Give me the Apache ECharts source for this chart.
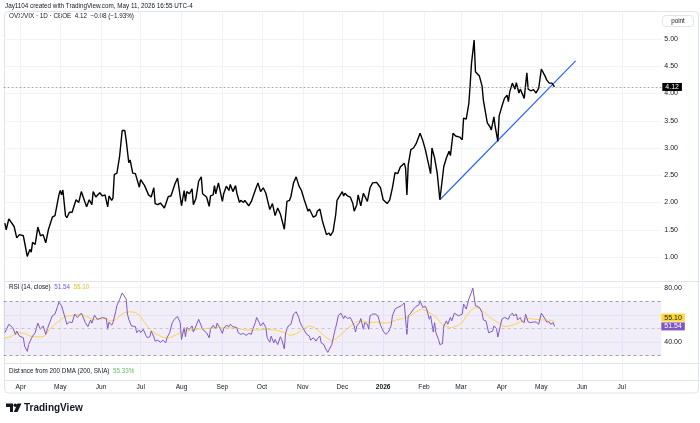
<!DOCTYPE html>
<html>
<head>
<meta charset="utf-8">
<script src="https://cdn.jsdelivr.net/npm/echarts@6/dist/echarts.min.js"></script>
<style>html,body{margin:0;padding:0;background:#fff}#c{width:700px;height:423px}</style>
</head>
<body>
<div id="c"></div>
<script>
// Day offsets are counted from this date (2025-03-16)
const startDate = [2025, 2, 16];

const priceDays = [
  4,5,7,11,13,15,18,21,23,24,
  25,27,29,31,33,35,37,40,42,45,
  46,47,48,50,51,53,55,58,60,62,
  64,66,68,70,71,73,76,78,80,82,
  83,85,86,87,89,91,93,95,96,98,
  99,101,103,106,107,110,111,113,115,117,
  118,120,122,125,128,130,133,135,138,140,
  141,142,144,146,147,149,151,153,154,157,
  159,160,162,163,164,166,169,170,172,174,
  175,177,179,180,182,183,185,186,189,191,
  194,196,198,200,202,205,207,209,211,213,
  216,218,220,221,223,224,225,227,229,231,
  232,234,235,238,240,241,243,245,246,248,
  250,251,253,255,256,258,260,261,262,264,
  266,268,269,271,272,274,276,277,279,280,
  281,283,286,287,289,291,294,296,298,300,
  302,304,305,307,308,309,310,312,314,316,
  319,321,323,324,327,328,330,332,334,335,
  337,339,341,342,344,346,347,349,351,352,
  354,356,357,358,360,361,362,364,366,367,
  368,370,372,373,375,376,378,379,381,383,
  385,386,387,389,391,392,394,395,397,398,
  400,401,403,405,407,409,411,412,414,415,
  417,418,419,421
];
const priceValues = [
  1.62,1.50,1.70,1.56,1.35,1.41,1.39,1.01,1.14,1.09,
  1.27,1.23,1.55,1.39,1.41,1.26,1.50,1.73,1.76,2.14,
  2.22,2.14,2.23,1.76,1.72,1.82,1.82,2.05,2.00,2.20,
  2.06,1.92,2.05,1.96,2.20,2.10,2.18,2.12,2.14,1.92,
  2.12,2.04,2.08,2.51,2.54,2.84,3.32,3.32,3.15,2.73,
  2.78,2.54,2.53,2.28,2.42,2.31,2.34,2.14,2.10,2.27,
  1.98,1.96,1.99,1.90,2.11,2.12,2.34,2.45,1.94,2.22,
  2.02,2.20,2.16,2.25,1.96,2.08,2.39,2.47,2.16,2.10,
  1.93,2.12,2.14,2.31,2.16,2.36,2.02,2.16,2.30,2.22,
  2.33,2.20,2.31,2.17,2.00,2.04,2.00,2.04,1.94,2.02,
  2.23,2.36,2.20,2.27,2.17,1.87,1.98,1.76,1.90,1.79,
  1.51,2.02,2.04,2.11,2.36,2.37,2.47,2.31,2.22,2.06,
  2.08,1.84,1.88,1.73,1.76,1.84,1.88,1.65,1.67,1.41,
  1.44,1.39,1.47,1.78,2.04,2.12,2.20,2.12,2.17,2.12,
  2.10,1.98,1.84,1.96,2.14,1.94,2.17,2.20,2.02,2.00,
  2.27,2.36,2.37,2.36,2.27,2.05,1.98,2.05,2.27,2.55,
  2.53,2.65,2.67,2.72,2.63,2.14,2.69,2.97,3.00,3.08,
  3.27,3.14,2.97,2.98,2.53,3.00,2.82,2.54,2.05,2.06,
  2.66,2.82,2.94,2.86,3.27,3.22,3.24,3.20,3.15,3.55,
  3.53,3.82,4.16,4.55,4.98,4.40,4.37,4.32,4.14,3.88,
  3.85,3.46,3.39,3.33,3.57,3.39,3.12,3.59,3.76,3.91,
  3.97,3.85,4.03,4.19,4.08,4.20,4.01,4.08,3.97,3.91,
  4.38,4.08,4.05,4.07,4.01,4.10,4.45,4.43,4.31,4.25,
  4.19,4.22,4.19,4.12
];

const trendDays = [334, 437];
const trendValues = [2.05, 4.60];

const rsiDays = [
  4,5,7,10,12,13,15,18,19,21,
  22,24,25,27,29,31,33,35,37,39,
  40,42,44,45,47,48,50,51,53,55,
  57,59,62,63,65,67,69,70,72,74,
  76,78,79,81,82,83,85,86,88,89,
  91,93,94,96,97,98,100,101,103,104,
  106,107,109,111,112,114,115,117,118,120,
  122,124,126,127,129,131,133,135,137,138,
  140,141,142,144,146,147,149,151,152,154,
  155,157,159,160,162,164,165,167,169,170,
  172,174,175,177,178,180,181,183,185,187,
  189,191,192,194,195,197,198,200,202,203,
  205,206,208,209,211,213,214,216,217,219,
  221,223,225,227,228,230,231,233,235,236,
  238,240,241,243,244,246,247,249,250,252,
  254,256,257,259,261,262,264,266,267,269,
  270,271,273,274,276,277,279,280,281,283,
  285,287,289,291,293,295,297,298,300,302,
  303,305,307,309,310,312,314,316,318,319,
  321,323,324,326,327,329,330,331,333,334,
  336,337,339,340,342,343,345,346,348,349,
  351,352,354,356,358,359,361,362,364,366,
  367,369,371,372,374,375,377,378,380,381,
  383,384,386,387,389,390,392,393,395,396,
  398,399,401,403,405,407,409,411,412,414,
  415,417,418,420,421
];
const rsiValues = [
  46.9,45.7,53.1,50.6,45.7,48.1,44.4,43.2,37.0,33.2,
  38.2,42.4,44.4,46.9,53.9,49.4,51.9,45.7,51.9,56.8,
  59.3,60.6,66.3,69.3,66.8,68.0,56.8,53.1,54.8,54.3,
  60.6,58.1,61.3,59.3,54.3,51.4,56.3,53.9,59.8,56.8,
  57.3,58.1,56.8,57.3,49.4,54.8,52.4,54.3,62.3,66.8,
  71.2,76.2,76.7,71.7,60.6,56.8,51.9,50.6,51.4,46.9,
  48.9,46.9,49.4,44.9,43.2,43.9,48.1,43.9,40.7,41.4,
  39.9,41.4,39.4,43.2,46.9,54.3,57.3,58.8,54.3,41.9,
  50.6,43.9,50.6,49.4,51.9,47.4,51.9,56.8,57.3,49.4,
  49.9,46.9,43.2,49.4,52.4,49.9,53.9,50.6,46.4,49.9,
  52.4,51.4,53.1,51.4,52.4,50.6,46.9,45.7,46.4,44.9,
  46.4,45.7,49.4,54.3,58.1,54.3,51.9,54.3,50.6,43.2,
  39.9,44.4,39.4,41.9,38.2,43.9,41.9,35.0,46.9,51.9,
  53.1,60.6,62.3,58.1,54.3,50.6,51.9,45.7,44.4,41.4,
  43.2,40.7,42.4,44.4,39.4,38.2,35.7,32.5,34.5,38.2,
  46.9,54.8,59.8,61.3,57.3,59.3,57.3,58.1,56.3,51.9,
  47.4,51.9,54.3,57.3,49.4,54.3,53.1,49.4,59.3,60.6,
  60.6,59.3,52.4,48.1,45.7,47.4,51.9,59.3,64.3,65.5,
  64.3,66.8,68.8,45.7,59.3,61.3,64.3,66.3,67.3,70.5,
  65.5,66.3,64.3,56.8,59.3,47.4,54.3,46.9,41.9,38.2,
  38.9,51.9,55.6,53.1,58.1,55.6,61.3,60.6,59.3,58.8,
  60.6,68.0,64.3,71.7,76.7,79.7,66.8,65.5,65.5,61.8,
  56.3,55.6,46.9,46.4,48.1,51.9,49.9,43.7,52.4,56.8,
  58.1,59.3,56.8,59.3,61.3,59.3,60.6,56.3,58.1,55.6,
  54.3,60.6,54.8,54.3,54.8,54.8,53.1,61.3,60.6,56.8,
  54.8,54.8,53.1,54.3,51.54
];

const smaDays = [
  4,8,12,15,19,23,27,31,34,38,
  42,46,50,53,57,61,65,69,72,76,
  80,84,88,91,95,99,103,107,110,114,
  118,122,125,129,133,137,141,148,156,163,
  171,179,186,194,201,209,217,220,224,228,
  232,235,239,243,247,252,256,260,263,267,
  271,275,279,282,286,291,296,301,306,311,
  316,320,324,328,332,335,339,343,347,351,
  354,358,361,364,368,372,376,380,383,387,
  391,395,399,402,406,410,414,418,421
];
const smaValues = [
  42.7,43.9,45.7,46.9,46.4,44.4,43.9,43.7,44.4,49.4,
  53.1,56.3,58.8,59.3,60.1,60.3,59.3,57.3,56.3,56.8,
  57.3,55.6,56.3,59.3,61.8,62.3,61.8,58.8,54.3,49.4,
  46.4,44.4,43.2,43.2,44.9,46.9,48.1,49.4,49.9,50.6,
  50.6,50.4,48.9,48.9,49.4,48.9,46.9,44.9,45.7,48.1,
  50.6,51.9,50.6,47.4,43.9,40.7,43.2,46.4,49.4,52.4,
  54.8,55.6,54.8,54.3,54.8,53.9,54.3,56.3,57.3,58.8,
  62.3,64.3,63.0,60.6,57.3,53.9,51.4,50.6,51.9,54.3,
  59.3,63.8,65.5,64.8,61.8,58.1,55.6,53.1,51.4,51.9,
  53.1,54.8,56.8,57.3,56.8,56.3,56.3,56.1,55.10
];

const monthNames = ['Jan','Feb','Mar','Apr','May','Jun','Jul','Aug','Sep','Oct','Nov','Dec'];
const priceTicks = { min: 0.5, max: 5.5, step: 0.5 };
const rsiTicks = { min: 20, max: 80, step: 20, shown: [40, 80] };
const distanceValue = '55.33%';

const DAY = 864e5;
const base = Date.UTC(startDate[0], startDate[1], startDate[2]);
const t = d => base + d * DAY;
const zip = (ds, vs) => ds.map((d, i) => [t(d), vs[i]]);
const lastPrice = priceValues[priceValues.length - 1];
const lastRsi = rsiValues[rsiValues.length - 1];
const lastSma = smaValues[smaValues.length - 1];

const FONT = '"Liberation Sans", Arial, sans-serif';
const TXT = '#131722';
const GRIDC = '#f0f3fa';
const LEFT = 3.56, RIGHT = 38.7;
const xMin = t(3), xMax = t(502);

function timeAxis(gi, show) {
  return {
    type: 'time', gridIndex: gi, min: xMin, max: xMax,
    minInterval: 28 * DAY, maxInterval: 31 * DAY,
    axisLine: { show: false }, axisTick: { show: false },
    axisLabel: show ? {
      show: true, margin: 4, fontSize: 6.6, color: TXT, fontFamily: FONT,
      showMinLabel: false, showMaxLabel: false,
      formatter: function (v) {
        const d = new Date(v); const m = d.getUTCMonth();
        return m === 0 ? '{y|' + d.getUTCFullYear() + '}' : monthNames[m];
      },
      rich: { y: { fontWeight: 'bold', fontSize: 6.6, color: TXT, fontFamily: FONT } }
    } : { show: false },
    splitLine: { show: show, showMinLine: false, showMaxLine: false, lineStyle: { color: GRIDC, width: 1 } }
  };
}

function badge(value, bg, fg, vAlign) {
  return {
    yAxis: value,
    lineStyle: { color: 'rgba(0,0,0,0)', width: 0, opacity: 1 },
    label: {
      show: true, position: 'end', distance: 0, formatter: value.toFixed(2),
      verticalAlign: vAlign, opacity: 1,
      backgroundColor: bg, color: fg, padding: [1, 3, 0, 3], fontSize: 7, fontFamily: FONT
    }
  };
}

const chart = echarts.init(document.getElementById('c'), null, { renderer: 'canvas' });

const option = {
  animation: false,
  useUTC: true,
  backgroundColor: '#fff',
  grid: [
    { left: LEFT, right: RIGHT, top: 11.75, height: 272.5 },
    { left: LEFT, right: RIGHT, top: 287.7, height: 81.6 },
    { left: LEFT, right: RIGHT, top: 11.5, height: 368.5 }
  ],
  xAxis: [timeAxis(0, false), timeAxis(1, false), timeAxis(2, true)],
  yAxis: [
    {
      type: 'value', gridIndex: 0, position: 'right',
      min: priceTicks.min, max: priceTicks.max, interval: priceTicks.step,
      axisLine: { show: false }, axisTick: { show: false },
      axisLabel: { margin: 3, fontSize: 7, color: TXT, fontFamily: FONT,
        showMinLabel: false, showMaxLabel: false, formatter: v => v.toFixed(2) },
      splitLine: { showMinLine: false, showMaxLine: false, lineStyle: { color: GRIDC } }
    },
    {
      type: 'value', gridIndex: 1, position: 'right',
      min: rsiTicks.min, max: rsiTicks.max, interval: rsiTicks.step,
      axisLine: { show: false }, axisTick: { show: false },
      axisLabel: { margin: 3, fontSize: 7, color: TXT, fontFamily: FONT,
        showMinLabel: false,
        formatter: v => rsiTicks.shown.indexOf(v) >= 0 ? v.toFixed(2) : '' },
      splitLine: { showMinLine: false, lineStyle: { color: GRIDC } }
    },
    { type: 'value', gridIndex: 2, min: 0, max: 1, show: false }
  ],
  series: [
    {
      type: 'line', name: 'OVX/VIX', xAxisIndex: 0, yAxisIndex: 0,
      data: zip(priceDays, priceValues), showSymbol: false, symbol: 'none',
      lineStyle: { color: '#000', width: 1.4 }, z: 4,
      markLine: {
        silent: true, symbol: 'none', animation: false,
        lineStyle: { color: '#9598a1', type: [2, 2], width: 0.8 },
        label: {
          show: true, position: 'end', distance: 1,
          formatter: lastPrice.toFixed(2),
          backgroundColor: '#000', color: '#fff', padding: [1, 3, 0, 3],
          fontSize: 7, fontFamily: FONT
        },
        data: [{ yAxis: lastPrice }]
      }
    },
    {
      type: 'line', name: 'trend', xAxisIndex: 0, yAxisIndex: 0,
      data: zip(trendDays, trendValues), showSymbol: false, symbol: 'none',
      lineStyle: { color: '#2962ff', width: 1.2 }, z: 3
    },
    {
      type: 'line', name: 'RSI', xAxisIndex: 1, yAxisIndex: 1,
      data: zip(rsiDays, rsiValues), showSymbol: false, symbol: 'none',
      lineStyle: { color: '#7e57c2', width: 1 }, z: 4,
      markArea: {
        silent: true,
        itemStyle: { color: 'rgba(126,87,194,0.1)' },
        data: [[{ yAxis: 30 }, { yAxis: 70 }]]
      },
      markLine: {
        silent: true, symbol: 'none', animation: false,
        lineStyle: { color: '#9c9fa8', type: [3, 3], width: 1 },
        label: { show: false },
        data: [
          { yAxis: 70 }, { yAxis: 50, lineStyle: { color: '#b8bac2', type: [3, 3], width: 0.8 } }, { yAxis: 30 }
        ]
      }
    },
    {
      type: 'line', name: 'RSI SMA', xAxisIndex: 1, yAxisIndex: 1,
      data: zip(smaDays, smaValues), showSymbol: false, symbol: 'none',
      lineStyle: { color: '#f9d649', width: 1 }, z: 3
    },
    {
      type: 'line', name: 'badges', xAxisIndex: 1, yAxisIndex: 1, data: [], z: 6,
      markLine: {
        silent: true, symbol: 'none', animation: false,
        data: [
          badge(lastRsi, '#7e57c2', '#ffffff', 'middle'),
          badge(lastSma, '#fdd835', TXT, 'bottom')
        ]
      }
    }
  ],
  graphic: [
    { type: 'rect', silent: true, z: -10, shape: { x: 4.5, y: 11.5, width: 694, height: 381.5, r: 4 },
      style: { fill: 'none', stroke: '#e0e3eb', lineWidth: 1 } },
    { type: 'line', silent: true, shape: { x1: 4.5, y1: 281.5, x2: 698.5, y2: 281.5 }, style: { stroke: '#e0e3eb', lineWidth: 1 } },
    { type: 'line', silent: true, shape: { x1: 4.5, y1: 363.5, x2: 698.5, y2: 363.5 }, style: { stroke: '#e0e3eb', lineWidth: 1 } },
    { type: 'line', silent: true, shape: { x1: 4.5, y1: 380.5, x2: 698.5, y2: 380.5 }, style: { stroke: '#e0e3eb', lineWidth: 1 } },
    { type: 'text', silent: true, x: 5, y: 6,
      style: { text: 'Jay1104 created with TradingView.com, May 11, 2026 16:55 UTC-4', fontSize: 6.3, fontFamily: FONT, fill: TXT, verticalAlign: 'middle' } },
    { type: 'text', silent: true, x: 9, y: 16,
      style: { text: 'OVX/VIX · 1D · CBOE  4.12  −0.08 (−1.93%)', fontSize: 6.3, fontFamily: FONT, fill: TXT, verticalAlign: 'middle' } },
    { type: 'text', silent: true, x: 9, y: 287, z: 10,
      style: { text: 'RSI (14, close)  {p|51.54}  {s|55.10}', fontSize: 6.3, fontFamily: FONT, fill: TXT, verticalAlign: 'middle',
        rich: { p: { fill: '#7e57c2', fontSize: 6.3, fontFamily: FONT }, s: { fill: '#e8c22a', fontSize: 6.3, fontFamily: FONT } } } },
    { type: 'text', silent: true, x: 9, y: 371,
      style: { text: 'Distance from 200 DMA (200, SMA)  {g|' + distanceValue + '}', fontSize: 6.3, fontFamily: FONT, fill: TXT, verticalAlign: 'middle',
        rich: { g: { fill: '#66bb6a', fontSize: 6.3, fontFamily: FONT } } } },
    { type: 'rect', silent: true, shape: { x: 662.5, y: 15.5, width: 31, height: 11, r: 3 },
      style: { fill: '#fff', stroke: '#e0e3eb', lineWidth: 1 } },
    { type: 'text', silent: true, x: 678, y: 21,
      style: { text: 'point', fontSize: 6.3, fontFamily: FONT, fill: TXT, align: 'center', verticalAlign: 'middle' } },
    { type: 'polygon', silent: true, shape: { points: [[6, 403.5], [13, 403.5], [13, 412], [10, 412], [10, 407], [6, 407]] }, style: { fill: '#131722' } },
    { type: 'circle', silent: true, shape: { cx: 15.3, cy: 405.3, r: 1.8 }, style: { fill: '#131722' } },
    { type: 'polygon', silent: true, shape: { points: [[17.5, 403.5], [21.5, 403.5], [17.5, 412], [13.8, 412]] }, style: { fill: '#131722' } },
    { type: 'text', silent: true, x: 24, y: 408,
      style: { text: 'TradingView', fontSize: 10, fontWeight: 'bold', fontFamily: FONT, fill: '#131722', verticalAlign: 'middle' } }
  ]
};

chart.setOption(option);
</script>
</body>
</html>
